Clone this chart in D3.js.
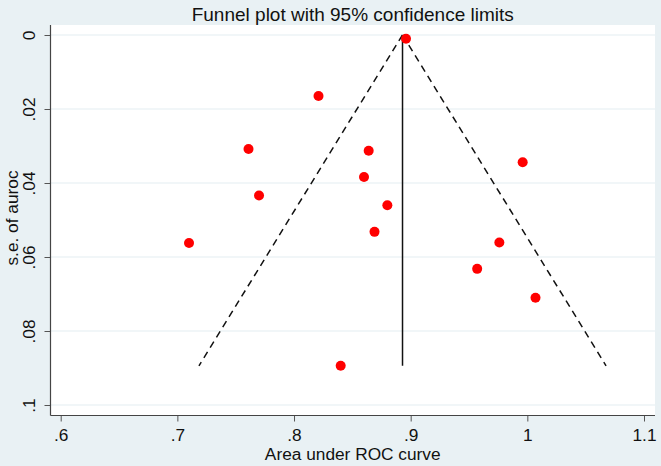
<!DOCTYPE html>
<html>
<head>
<meta charset="utf-8">
<script src="https://cdn.jsdelivr.net/npm/d3@7"></script>
<style>
  html, body { margin: 0; padding: 0; background: #e9f1f4; }
  svg { display: block; }
  text { font-family: "Liberation Sans", Arial, Helvetica, sans-serif; fill: #111; }
</style>
</head>
<body>
<svg id="chart" width="661" height="466"></svg>
<script>
// Study estimates (area under ROC curve) and their standard errors
const auroc = [0.896, 0.821, 0.761, 0.864, 0.860, 0.770, 0.880, 0.869, 0.710, 0.840, 0.996, 0.976, 0.957, 1.007];
const seAuroc = [0.001, 0.0165, 0.0308, 0.0313, 0.0384, 0.0434, 0.046, 0.0532, 0.0562, 0.0894, 0.0344, 0.0561, 0.0632, 0.071];
// Pooled estimate and 95% confidence limit lines
const pooled = 0.893;
const maxSe = 0.0894;
const lowerLimit = [[0.893, 0], [0.7185, 0.0894]];
const upperLimit = [[0.893, 0], [1.0675, 0.0894]];
const xTicks = [0.6, 0.7, 0.8, 0.9, 1.0, 1.1];
const yTicks = [0, 0.02, 0.04, 0.06, 0.08, 0.1];
const title = "Funnel plot with 95% confidence limits";
const xTitle = "Area under ROC curve";
const yTitle = "s.e. of auroc";

const svg = d3.select("#chart");
const W = 661, H = 466;
const box = { left: 50.5, top: 25, right: 655, bottom: 415.5 };

const x = d3.scaleLinear().domain([0.6, 1.1]).range([60.7, 644]);
const y = d3.scaleLinear().domain([0, 0.1]).range([35, 405]);

svg.append("rect").attr("width", W).attr("height", H).attr("fill", "#e9f1f4");
svg.append("rect")
  .attr("x", box.left).attr("y", box.top)
  .attr("width", box.right - box.left).attr("height", box.bottom - box.top)
  .attr("fill", "#ffffff");

// gridlines
svg.append("g").selectAll("line").data(yTicks).join("line")
  .attr("x1", box.left).attr("x2", box.right)
  .attr("y1", d => y(d)).attr("y2", d => y(d))
  .attr("stroke", "#e4edf1").attr("stroke-width", 1.2);

const fmt = d => String(+d.toFixed(4)).replace(/^0\./, ".");
const fontSize = 17.3;

// y axis
const yAxis = d3.axisLeft(y).tickValues(yTicks).tickSize(6).tickFormat(fmt);
const gy = svg.append("g").attr("transform", `translate(${box.left},0)`).call(yAxis);
gy.select(".domain").remove();
gy.selectAll(".tick line").attr("stroke", "#555").attr("stroke-width", 1);
gy.selectAll(".tick text")
  .attr("font-size", fontSize)
  .attr("fill", "#111")
  .attr("text-anchor", "middle")
  .attr("x", 0).attr("dy", 0)
  .attr("transform", "translate(-22,0) rotate(-90)")
  .attr("dominant-baseline", "central")
  .style("font-family", "'Liberation Sans', Arial, sans-serif");

// x axis
const xAxis = d3.axisBottom(x).tickValues(xTicks).tickSize(6).tickFormat(fmt);
const gx = svg.append("g").attr("transform", `translate(0,${box.bottom})`).call(xAxis);
gx.select(".domain").remove();
gx.selectAll(".tick line").attr("stroke", "#555").attr("stroke-width", 1);
gx.selectAll(".tick text")
  .attr("font-size", fontSize)
  .attr("fill", "#111")
  .attr("y", 25).attr("dy", 0)
  .style("font-family", "'Liberation Sans', Arial, sans-serif");

// axis lines
svg.append("line").attr("x1", box.left).attr("x2", box.left).attr("y1", box.top).attr("y2", box.bottom)
  .attr("stroke", "#444").attr("stroke-width", 1.2);
svg.append("line").attr("x1", box.left).attr("x2", box.right).attr("y1", box.bottom).attr("y2", box.bottom)
  .attr("stroke", "#444").attr("stroke-width", 1.2);

// funnel lines
const line = d3.line().x(d => x(d[0])).y(d => y(d[1]));
[lowerLimit, upperLimit].forEach(l => {
  svg.append("path").attr("d", line(l)).attr("fill", "none")
    .attr("stroke", "#111").attr("stroke-width", 1.5).attr("stroke-dasharray", "7,5");
});
svg.append("line")
  .attr("x1", x(pooled)).attr("x2", x(pooled))
  .attr("y1", y(0)).attr("y2", y(maxSe))
  .attr("stroke", "#111").attr("stroke-width", 1.5);

// points
svg.append("g").selectAll("circle").data(auroc).join("circle")
  .attr("cx", d => x(d)).attr("cy", (d, i) => y(seAuroc[i]))
  .attr("r", 5).attr("fill", "#ff0000");

// titles
svg.append("text").attr("x", (box.left + box.right) / 2).attr("y", 21)
  .attr("text-anchor", "middle").attr("font-size", 19).text(title);
svg.append("text").attr("x", (box.left + box.right) / 2).attr("y", 460)
  .attr("text-anchor", "middle").attr("font-size", fontSize).text(xTitle);
svg.append("text").attr("transform", `translate(17.5,218) rotate(-90)`)
  .attr("text-anchor", "middle").attr("font-size", fontSize).text(yTitle);
</script>
</body>
</html>
